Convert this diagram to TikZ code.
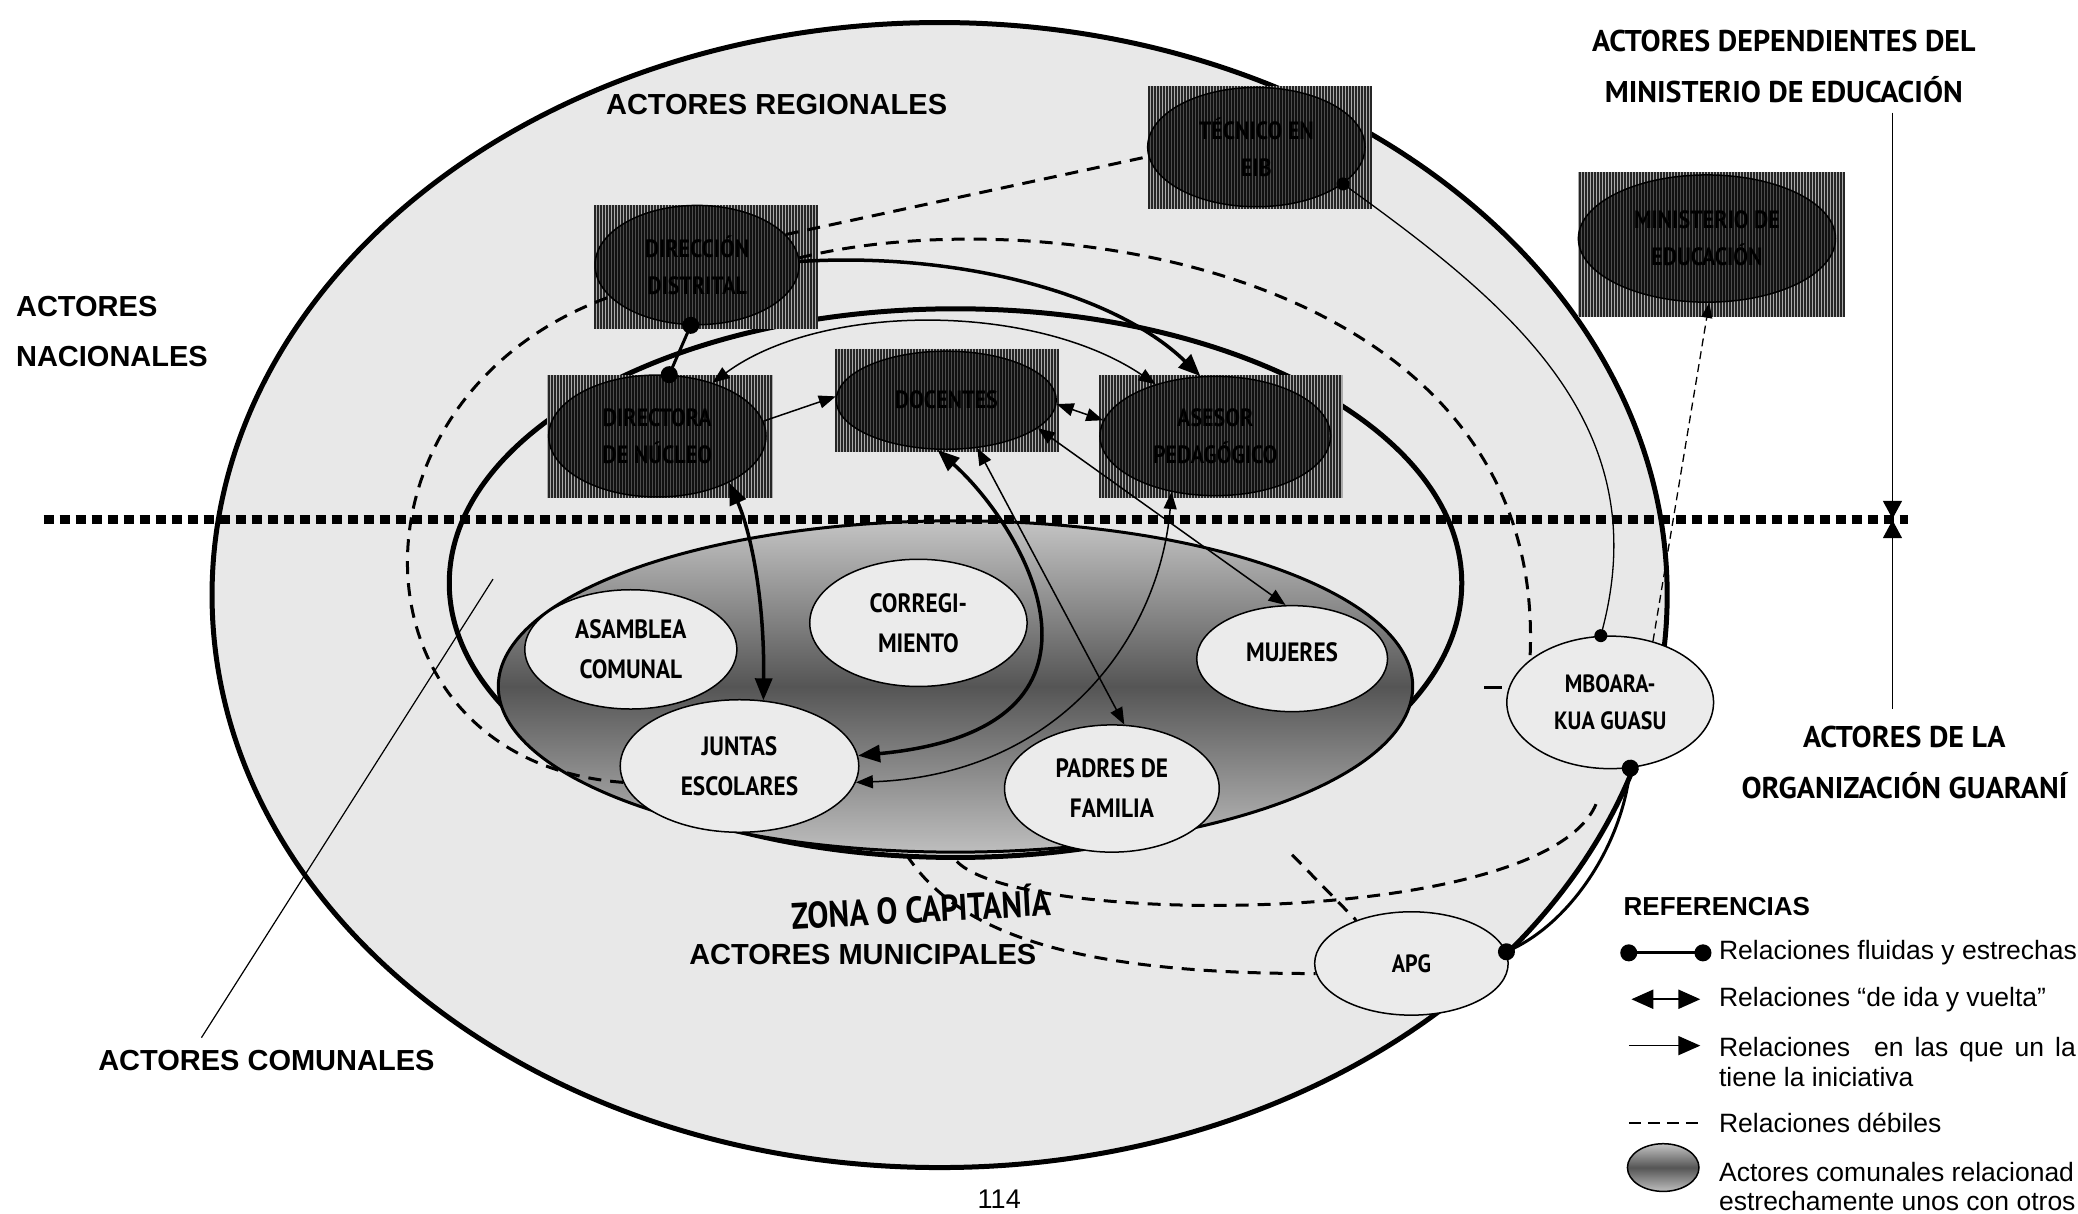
\documentclass[tikz,border=0pt]{standalone}
\usepackage{fontspec}
\setmainfont{Liberation Sans}
\newfontfamily\ptsans{PT Sans}
\newfontfamily\ptnarrow[FakeStretch=0.88]{PT Sans}
\newfontfamily\ptnarrowz[FakeStretch=0.85]{PT Sans}
\usetikzlibrary{arrows.meta,shapes.geometric}
\definecolor{bgray}{HTML}{E8E8E8}
\definecolor{lgray}{HTML}{EBEBEB}
\definecolor{hatchbgc}{HTML}{ABABAB}
\definecolor{gtop}{HTML}{C4C4C4}
\definecolor{gmid}{HTML}{555555}
\definecolor{gbot}{HTML}{BEBEBE}
\newcommand\hatchrect[4]{%
  \fill[hatchbgc] (#1,#2) rectangle (#3,#4);
  \pgfmathtruncatemacro\hatchn{(#3-#1-1)/2.264}%
  \foreach \hk in {0,...,\hatchn}{\draw[line width=1.8pt, black!85] ({#1+1+\hk*2.264},#2) -- ({#1+1+\hk*2.264},#4);}%
}
\tikzset{
  esz/.style 2 args={minimum width={2*#1*1.3253pt}, minimum height={2*#2*1.3253pt}},
  darknode/.style={ellipse, draw=black, line width=1.5pt, fill=black, fill opacity=0.55, text opacity=1, inner sep=0pt, text=black, align=center, font=\ptnarrow\bfseries\fontsize{25}{37}\selectfont},
  lightnode/.style={ellipse, draw=black, line width=1.5pt, fill=lgray, inner sep=0pt, align=center, font=\ptnarrow\bfseries\fontsize{26.5}{40}\selectfont},
  hd/.style={font=\bfseries\fontsize{29}{50}\selectfont, align=center, inner sep=0pt},
  pthd/.style={font=\ptsans\bfseries\fontsize{30}{51}\selectfont, align=center, inner sep=0pt},
  legtext/.style={font=\fontsize{26.5}{30}\selectfont, anchor=west, align=left, inner sep=0pt},
  weak/.style={line width=3pt, dash pattern=on 13pt off 9pt},
  weakthin/.style={line width=1.3pt, dash pattern=on 8pt off 5pt},
  fluid/.style={line width=3pt, {Circle[length=17pt]}-{Circle[length=17pt]}, shorten <=-8.5pt, shorten >=-8.5pt},
  fluidthin/.style={line width=1.3pt, {Circle[length=13pt]}-{Circle[length=13pt]}, shorten <=-6.5pt, shorten >=-6.5pt},
  oneway/.style={line width=1.5pt, -{Triangle[length=17pt,width=13pt]}},
  twoway/.style={line width=1.5pt, {Triangle[length=17pt,width=13pt]}-{Triangle[length=17pt,width=13pt]}},
  twowaythick/.style={line width=3.5pt, {Triangle[length=22pt,width=17pt]}-{Triangle[length=22pt,width=17pt]}},
  onewaythick/.style={line width=3.5pt, -{Triangle[length=22pt,width=18pt]}},
  gshade/.style={top color=gtop, bottom color=gbot, middle color=gmid}
}
\begin{document}
\begin{tikzpicture}[x=1.3253pt, y=-1.3253pt]
\useasboundingbox[fill=white] (0,0) rectangle (1568,916);

% large regions
\draw[line width=5pt, fill=bgray] (709,449) ellipse [x radius=549, y radius=432];
\draw[line width=5pt] (721,440) ellipse [x radius=382, y radius=207];
\draw[line width=3pt, gshade] (721,518) ellipse [x radius=345, y radius=125];

% dotted divider
\coordinate (dotL) at (33,392);
\coordinate (dotR) at (1440,392);
\draw[line width=8.5pt, dash pattern=on 10pt off 6pt] (dotL) -- (dotR);

% hatched regional / national actors
\hatchrect{866}{65}{1035}{158}
\hatchrect{448}{155}{617}{248}
\hatchrect{413}{283}{583}{376}
\hatchrect{630}{263}{799}{341}
\hatchrect{829}{283}{1013}{376}
\hatchrect{1191}{130}{1392}{239}

\node[darknode, esz={82}{45}] (tec) at (948,111) {TÉCNICO EN\\EIB};
\node[darknode, esz={77}{45}] (dd) at (526,200) {DIRECCIÓN\\DISTRITAL};
\node[darknode, esz={82}{46}] (dn) at (496,329) {DIRECTORA\\DE NÚCLEO};
\node[darknode, esz={83}{37}] (doc) at (714,302) {DOCENTES};
\node[darknode, esz={87}{45}] (ase) at (917,329) {ASESOR\\PEDAGÓGICO};
\node[darknode, esz={97}{48}] (min) at (1288,180) {MINISTERIO DE\\EDUCACIÓN};

% community actors
\node[lightnode, esz={80}{45}] (asa) at (476,490) {ASAMBLEA\\COMUNAL};
\node[lightnode, esz={82}{48}] (cor) at (693,470) {CORREGI-\\MIENTO};
\node[lightnode, esz={72}{40}] (muj) at (975,497) {\raisebox{14pt}{MUJERES}};
\node[lightnode, esz={90}{50}] (jun) at (558,578) {JUNTAS\\ESCOLARES};
\node[lightnode, esz={81}{48}] (pad) at (839,595) {PADRES DE\\FAMILIA};
\node[lightnode, esz={78}{50}, font=\ptnarrow\bfseries\fontsize{25}{37}\selectfont] (mbo) at (1215,530) {MBOARA-\\KUA GUASU};
\node[lightnode, esz={73}{39}, font=\ptnarrow\bfseries\fontsize{25}{37}\selectfont] (apg) at (1065,727) {APG};

% headings
\node[hd] (reg) at (586,79) {ACTORES REGIONALES};
\node[hd, anchor=west, align=left] (nac) at (12,250) {ACTORES\\NACIONALES};
\node[hd] (com) at (201,800) {ACTORES COMUNALES};
\node[hd] (mun) at (651,720) {ACTORES MUNICIPALES};
\node[pthd] (dep) at (1346,50) {ACTORES DEPENDIENTES DEL\\MINISTERIO DE EDUCACIÓN};
\node[pthd] (org) at (1437,575) {ACTORES DE LA\\ORGANIZACIÓN GUARANÍ};
\node[font=\ptnarrowz\bfseries\fontsize{37}{40}\selectfont, rotate=3, inner sep=0pt] (zona) at (695,684) {ZONA O CAPITANÍA};
\node[font=\fontsize{27}{30}\selectfont, inner sep=0pt] (pg) at (754,905) {114};

% leader line for comunales
\coordinate (comfoot) at (152,783);
\coordinate (comtip) at (372,437);
\draw[line width=1.2pt] (comfoot) -- (comtip);

% vertical level arrows
\coordinate (vtop) at (1428,85);
\coordinate (vmidA) at (1428,391.5);
\coordinate (vmidB) at (1428,392.5);
\coordinate (vbot) at (1428,535);
\draw[line width=1.5pt, -{Triangle[length=18pt,width=19pt]}] (vtop) -- (vmidA);
\draw[line width=1.5pt, -{Triangle[length=18pt,width=19pt]}] (vbot) -- (vmidB);

% connectors
\draw[weak] (dd.19) -- (tec.185);
\draw[weak] (dd.4) .. controls (780,150) and (1170,200) .. (mbo.152);
\draw[onewaythick] (dd.2) .. controls (720,190) and (840,220) .. (ase.104);
\draw[fluid] (dd.-96) -- (dn.79);
\draw[twoway] (dn.44) .. controls (620,228) and (780,228) .. (ase.139);
\draw[oneway] (dn.8) -- (doc.178);
\draw[twoway] (doc.-2) -- (ase.172);
\draw[twoway] (doc.-17) -- (muj.97);
\draw[twowaythick] (dn.-33) .. controls (566,400) and (577,450) .. (jun.70);
\draw[twowaythick] (doc.-100) .. controls (775,400) and (860,550) .. (jun.5);
\draw[twoway] (ase.-128) .. controls (875,480) and (800,585) .. (jun.-8);
\draw[twoway] (doc.-57) -- (pad.79);
\draw[fluidthin] (tec.-23) .. controls (1140,230) and (1250,320) .. (mbo.98);
\draw[weakthin, -{Triangle[length=15pt,width=11pt]}] (mbo.55) -- (min.-88);
\draw[fluid] (mbo.-73) .. controls (1222,640) and (1185,695) .. (apg.7);
\draw[weak] (jun.188) .. controls (260,575) and (250,300) .. (dd.200);
\coordinate (zq) at (722,650);
\coordinate (mq) at (1205,605);
\draw[weak] (zq) .. controls (770,700) and (1170,700) .. (mq);
\coordinate (zr) at (684,645);
\draw[weak] (zr) .. controls (720,700) and (800,735) .. (apg.186);
\coordinate (zs) at (975,645);
\draw[weak] (zs) -- (apg.142);
\coordinate (sdA) at (1120,519);
\coordinate (sdB) at (1133,519);
\draw[line width=3pt] (sdA) -- (sdB);

% legend
\node[font=\bfseries\fontsize{26}{30}\selectfont, anchor=west, inner sep=0pt] (ref) at (1225,684) {REFERENCIAS};
\coordinate (l1a) at (1229,719); \coordinate (l1b) at (1285,719);
\draw[fluid] (l1a) -- (l1b);
\node[legtext] (t1) at (1297,719) {Relaciones fluidas y estrechas};
\coordinate (l2a) at (1231,754); \coordinate (l2b) at (1283,754);
\draw[line width=2.3pt, {Triangle[length=22pt,width=19pt]}-{Triangle[length=22pt,width=19pt]}] (l2a) -- (l2b);
\node[legtext] (t2) at (1297,754) {Relaciones “de ida y vuelta”};
\coordinate (l3a) at (1229,789); \coordinate (l3b) at (1283,789);
\draw[line width=1.6pt, -{Triangle[length=22pt,width=19pt]}] (l3a) -- (l3b);
\node[legtext] (t3) at (1297,801) {Relaciones\hspace{24pt}en\hspace{11pt}las\hspace{11pt}que\hspace{11pt}un\hspace{11pt}la\\tiene la iniciativa};
\coordinate (l4a) at (1229,847); \coordinate (l4b) at (1283,847);
\draw[line width=2pt, dash pattern=on 12pt off 7pt] (l4a) -- (l4b);
\node[legtext] (t4) at (1297,847) {Relaciones débiles};
\draw[line width=1.5pt, gshade] (1255,881) ellipse [x radius=27, y radius=18];
\node[legtext, font=\fontsize{26.5}{29}\selectfont] (t5) at (1297,895) {Actores comunales relacionad\\estrechamente unos con otros};
\end{tikzpicture}
\end{document}
